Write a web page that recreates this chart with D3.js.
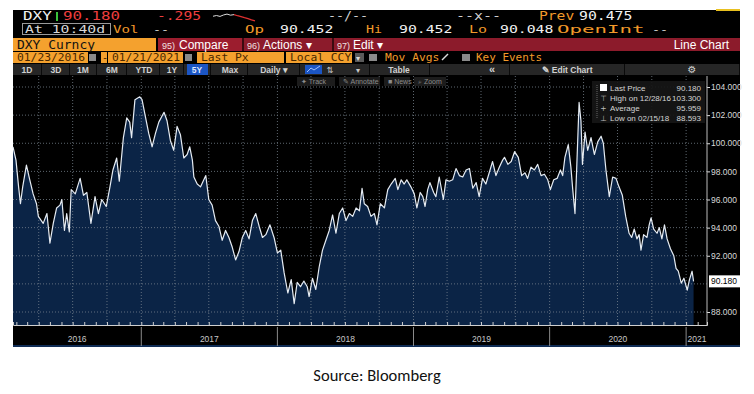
<!DOCTYPE html>
<html>
<head>
<meta charset="utf-8">
<script src="https://cdn.jsdelivr.net/npm/d3@7"></script>
<style>
  body { margin: 0; background: #fff; }
  svg { display: block; }
</style>
</head>
<body>
<svg id="chart" width="754" height="394"></svg>
<script>
// DXY daily close, 5Y window
var dates = [
  "2016-01-23","2016-01-31","2016-02-07","2016-02-12","2016-02-18","2016-02-28","2016-03-08","2016-03-17","2016-03-26","2016-03-31",
  "2016-04-13","2016-04-23","2016-05-01","2016-05-10","2016-05-19","2016-05-28","2016-06-02","2016-06-09","2016-06-15","2016-06-22",
  "2016-06-27","2016-07-08","2016-07-21","2016-07-30","2016-08-08","2016-08-19","2016-08-30","2016-09-08","2016-09-17","2016-09-29",
  "2016-10-09","2016-10-17","2016-10-27","2016-11-03","2016-11-14","2016-11-23","2016-12-01","2016-12-06","2016-12-15","2016-12-28",
  "2017-01-03","2017-01-12","2017-01-21","2017-01-30","2017-02-08","2017-02-17","2017-03-03","2017-03-11","2017-03-20","2017-03-29",
  "2017-04-07","2017-04-16","2017-04-25","2017-05-04","2017-05-11","2017-05-18","2017-05-22","2017-05-31","2017-06-09","2017-06-23",
  "2017-07-01","2017-07-10","2017-07-19","2017-07-28","2017-08-06","2017-08-15","2017-08-24","2017-09-02","2017-09-11","2017-09-20",
  "2017-09-29","2017-10-08","2017-10-17","2017-10-26","2017-11-04","2017-11-13","2017-11-22","2017-12-01","2017-12-12","2017-12-23",
  "2018-01-01","2018-01-10","2018-01-19","2018-01-29","2018-02-07","2018-02-15","2018-02-23","2018-03-04","2018-03-13","2018-03-22",
  "2018-03-27","2018-04-05","2018-04-14","2018-04-23","2018-05-02","2018-05-11","2018-05-20","2018-05-29","2018-06-07","2018-06-16",
  "2018-06-25","2018-07-04","2018-07-13","2018-07-22","2018-07-31","2018-08-09","2018-08-16","2018-08-22","2018-08-31","2018-09-09",
  "2018-09-18","2018-09-25","2018-10-04","2018-10-15","2018-10-24","2018-11-02","2018-11-13","2018-11-20","2018-11-29","2018-12-07",
  "2018-12-14","2018-12-25","2019-01-03","2019-01-10","2019-01-19","2019-01-26","2019-02-01","2019-02-08","2019-02-14","2019-02-24",
  "2019-03-02","2019-03-11","2019-03-22","2019-03-29","2019-04-07","2019-04-16","2019-04-25","2019-05-04","2019-05-13","2019-05-22",
  "2019-05-31","2019-06-09","2019-06-18","2019-06-26","2019-07-05","2019-07-14","2019-07-23","2019-08-01","2019-08-10","2019-08-19",
  "2019-08-28","2019-09-02","2019-09-11","2019-09-20","2019-09-29","2019-10-09","2019-10-18","2019-10-27","2019-11-03","2019-11-12",
  "2019-11-21","2019-11-30","2019-12-09","2019-12-18","2019-12-27","2020-01-03","2020-01-12","2020-01-21","2020-01-30","2020-02-05",
  "2020-02-11","2020-02-20","2020-02-27","2020-03-03","2020-03-09","2020-03-14","2020-03-20","2020-03-25","2020-03-29","2020-04-05",
  "2020-04-12","2020-04-21","2020-04-30","2020-05-09","2020-05-18","2020-05-24","2020-05-31","2020-06-09","2020-06-18","2020-06-27",
  "2020-07-05","2020-07-14","2020-07-23","2020-08-01","2020-08-08","2020-08-15","2020-08-22","2020-08-28","2020-09-02","2020-09-09",
  "2020-09-18","2020-09-24","2020-09-29","2020-10-06","2020-10-15","2020-10-21","2020-10-28","2020-11-04","2020-11-11","2020-11-20",
  "2020-11-29","2020-12-05","2020-12-11","2020-12-19","2020-12-26","2021-01-04","2021-01-10","2021-01-17","2021-01-21"
];
var prices = [
  99.75,98.8,96.9,95.7,96.9,98.45,97.4,96.4,95.7,94.8,
  94.3,95.0,92.9,94.3,95.4,95.6,96.0,93.8,95.0,93.7,
  96.7,96.4,97.5,96.3,96.5,94.3,96.2,95.0,96.0,95.5,
  96.9,98.1,98.95,97.3,100.4,101.8,101.5,100.4,103.1,103.3,
  103.1,101.9,100.7,99.75,100.7,101.5,102.2,101.6,100.2,99.5,
  101.2,100.6,98.95,99.2,99.75,98.8,97.6,97.1,96.9,97.7,
  96.0,95.6,94.5,94.1,93.1,93.8,93.3,92.6,91.7,92.3,
  93.3,93.8,93.2,94.5,95.0,94.1,93.3,93.5,94.2,93.3,
  92.2,92.4,90.8,89.35,90.3,88.6,90.1,89.8,90.2,89.8,
  89.1,90.4,89.6,91.2,92.4,93.1,93.8,94.9,93.6,95.0,
  95.4,94.5,95.0,94.8,95.4,95.2,96.8,95.7,95.5,94.8,
  95.0,94.2,95.7,95.4,96.7,97.1,97.5,96.7,97.4,97.1,
  97.4,96.9,96.4,95.4,96.5,96.2,95.5,96.7,97.2,96.5,
  96.2,97.6,96.0,97.4,97.3,97.4,98.2,97.7,97.6,98.1,
  98.2,96.8,97.2,96.2,97.5,97.1,97.9,98.7,97.7,98.3,
  98.8,99.0,98.5,98.7,99.4,99.0,97.7,97.9,97.5,98.3,
  98.1,98.5,97.7,97.8,97.4,96.7,97.4,97.5,98.1,97.7,
  99.0,99.9,98.3,96.7,95.0,98.5,102.9,101.6,98.5,100.8,
  99.5,100.4,99.2,100.1,100.5,100.0,98.1,96.2,97.6,97.5,
  96.9,96.3,94.8,93.6,93.3,93.9,93.2,93.5,92.4,93.5,
  93.3,94.2,94.7,93.9,93.6,94.0,93.2,94.2,93.2,92.5,
  92.0,91.1,90.9,90.05,90.4,89.55,90.3,90.9,90.18
];
var yTicks = [88, 92, 94, 96, 98, 100, 102, 104];
var gridValues = [88, 90, 92, 94, 96, 98, 100, 102, 104];
var years = [2016, 2017, 2018, 2019, 2020, 2021];
var sparkValues = [3.2, 3.6, 3.1, 3.9, 4.4, 3.8, 4.1, 3.5, 3.0, 2.4, 1.9, 1.2, 0.6];
var legendLabels = ["Last Price", "High on 12/28/16", "Average", "Low on 02/15/18"];
var legendValues = ["90.180", "103.300", "95.959", "88.593"];
var lastPrice = 90.18;

var svg = d3.select("#chart");
var panel = { left: 13, top: 10, right: 740, bottom: 347 };
var plot = { left: 13, right: 707, top: 76, bottom: 325 };

var orange = "#f4a12e", amber = "#f29a2a", crimson = "#8c1b2b";
var mono = "'DejaVu Sans Mono', monospace";
var sans = "'Liberation Sans', Arial, sans-serif";

svg.append("rect").attr("width", 754).attr("height", 394).attr("fill", "#fff");
svg.append("rect")
  .attr("x", panel.left).attr("y", panel.top)
  .attr("width", panel.right - panel.left).attr("height", panel.bottom - panel.top)
  .attr("fill", "#000");
svg.append("rect").attr("x", 716).attr("y", 9).attr("width", 24).attr("height", 2).attr("fill", "#e8c020");

function txt(g, x, y, s, color, size, font, cw, weight) {
  var t = g.append("text").attr("x", x).attr("y", y).text(s)
    .attr("fill", color).attr("font-size", size).attr("font-family", font || mono);
  if (cw) t.attr("textLength", s.length * cw).attr("lengthAdjust", "spacingAndGlyphs");
  if (weight) t.attr("font-weight", weight);
  return t;
}

var head = svg.append("g");

// row 1
txt(head, 23, 20, "DXY", "#f2f2f2", 12, mono, 9.6);
head.append("rect").attr("x", 56).attr("y", 12).attr("width", 2).attr("height", 9).attr("fill", "#3bc43b");
txt(head, 63, 20, "90.180", "#ef3e3e", 12, mono, 9.5);
txt(head, 157, 20, "-.295", "#ef3e3e", 12, mono, 8.8);
var sx = d3.scaleLinear().domain([0, sparkValues.length - 1]).range([213, 255]);
var sy = d3.scaleLinear().domain([0, 5]).range([22, 13]);
var spark = d3.line().x(function (d, i) { return sx(i); }).y(function (d) { return sy(d); });
head.append("path").attr("d", spark(sparkValues.slice(0, 7))).attr("fill", "none").attr("stroke", "#ddd").attr("stroke-width", 1);
head.append("path").attr("d", spark(sparkValues.slice(6)))
  .attr("transform", "translate(" + (sx(6) - sx(0)) + ",0)")
  .attr("fill", "none").attr("stroke", "#e03030").attr("stroke-width", 1.2);
txt(head, 328, 20, "--/--", "#cfcfcf", 12, mono, 8);
txt(head, 456, 20, "--x--", "#cfcfcf", 12, mono, 9);
txt(head, 539, 20, "Prev", amber, 12, mono, 8.8);
txt(head, 579, 20, "90.475", "#f2f2f2", 12, mono, 8.9);

// row 2
head.append("rect").attr("x", 22.5).attr("y", 23.5).attr("width", 88).attr("height", 11)
  .attr("fill", "none").attr("stroke", "#9a9a9a");
txt(head, 25, 32.5, "At 10:40d", "#d8d8d8", 11, mono, 8.9);
txt(head, 113, 32.5, "Vol", amber, 11, mono, 8.5);
txt(head, 153, 32.5, "--", "#cfcfcf", 11, mono, 8);
txt(head, 245, 32.5, "Op", amber, 11, mono, 9.5);
txt(head, 280, 32.5, "90.452", "#f2f2f2", 11, mono, 8.9);
txt(head, 366, 32.5, "Hi", amber, 11, mono, 8);
txt(head, 399, 32.5, "90.452", "#f2f2f2", 11, mono, 8.9);
txt(head, 469, 32.5, "Lo", amber, 11, mono, 9);
txt(head, 500, 32.5, "90.048", "#f2f2f2", 11, mono, 8.9);
txt(head, 557, 32.5, "OpenInt", amber, 11, mono, 12.5);
txt(head, 652, 32.5, "--", "#cfcfcf", 11, mono, 8);

// row 3
head.append("rect").attr("x", 13).attr("y", 38).attr("width", 143).attr("height", 13).attr("fill", orange);
txt(head, 17, 49, "DXY Curncy", "#111", 12, mono, 7.8);
head.append("rect").attr("x", 158).attr("y", 38).attr("width", 582).attr("height", 13).attr("fill", crimson);
head.append("rect").attr("x", 158).attr("y", 38).attr("width", 84).attr("height", 13).attr("fill", "#9c1d2e");
[242, 332].forEach(function (sep) {
  head.append("rect").attr("x", sep).attr("y", 38).attr("width", 2).attr("height", 13).attr("fill", "#3a0a10");
});
txt(head, 162, 48.5, "95)", "#f0e0e0", 9, sans);
txt(head, 179, 49, "Compare", "#fff", 12, sans);
txt(head, 247, 48.5, "96)", "#f0e0e0", 9, sans);
txt(head, 263, 49, "Actions \u25BE", "#fff", 12, sans);
txt(head, 337, 48.5, "97)", "#f0e0e0", 9, sans);
txt(head, 353, 49, "Edit \u25BE", "#fff", 12, sans);
txt(head, 729, 49, "Line Chart", "#fff", 12, sans).attr("text-anchor", "end");

// row 4
function obox(x, w, label) {
  head.append("rect").attr("x", x).attr("y", 52).attr("width", w).attr("height", 11).attr("fill", orange);
  if (label) txt(head, x + 4, 61, label, "#4a2800", 11, mono, 6.8);
}
function gbox(x, w) {
  head.append("rect").attr("x", x).attr("y", 54).attr("width", w).attr("height", 7).attr("fill", "#8a8a8a");
}
obox(13, 75, "01/23/2016");
gbox(89, 7);
obox(101, 6, null);
txt(head, 102, 61, "-", "#4a2800", 10, mono);
obox(108, 75, "01/21/2021");
gbox(185, 7);
obox(197, 87, "Last Px");
obox(286, 66, "Local CCY");
head.append("rect").attr("x", 355).attr("y", 53).attr("width", 9).attr("height", 9).attr("fill", "#5a5a5a");
txt(head, 356, 61, "\u25BE", "#ddd", 8, sans);
gbox(369, 8);
txt(head, 385, 61, "Mov Avgs", amber, 11, mono, 6.8);
head.append("line").attr("x1", 442).attr("y1", 60).attr("x2", 448).attr("y2", 54).attr("stroke", "#ddd").attr("stroke-width", 1.5);
gbox(462, 8);
txt(head, 476, 61, "Key Events", amber, 11, mono, 6.6);

// row 5 : range buttons
head.append("rect").attr("x", 13).attr("y", 64).attr("width", 727).attr("height", 11).attr("fill", "#262626");
var cells = [[13, 42], [42, 70], [70, 97], [97, 127], [127, 160], [160, 184], [184, 211], [211, 248], [248, 300], [300, 370], [370, 430], [430, 510], [510, 625], [625, 740]];
cells.forEach(function (c) {
  head.append("rect").attr("x", c[1] - 1).attr("y", 64).attr("width", 1).attr("height", 11).attr("fill", "#0a0a0a");
});
head.append("rect").attr("x", 187).attr("y", 64).attr("width", 21).attr("height", 11).attr("fill", "#1b55c4");
var btns = [["1D", 27], ["3D", 56], ["1M", 83], ["6M", 112], ["YTD", 144], ["1Y", 172], ["5Y", 197], ["Max", 230], ["Daily \u25BE", 274]];
btns.forEach(function (b) {
  txt(head, b[1], 72.5, b[0], b[0] === "5Y" ? "#dfe8ff" : "#d0d0d0", 8.5, sans, null, "bold").attr("text-anchor", "middle");
});
head.append("rect").attr("x", 305).attr("y", 65).attr("width", 17).attr("height", 9).attr("fill", "#1b55c4");
head.append("path").attr("d", "M307,72 L311,68 L314,70 L320,66").attr("fill", "none").attr("stroke", "#9fc0ff").attr("stroke-width", 1);
txt(head, 330, 72.5, "\u21C5", "#c8c8c8", 8.5, "'DejaVu Sans', sans-serif").attr("text-anchor", "middle");
txt(head, 358, 72.5, "\u25BE", "#c8c8c8", 8, sans).attr("text-anchor", "middle");
txt(head, 399, 72.5, "Table", "#d0d0d0", 8.5, sans, null, "bold").attr("text-anchor", "middle");
txt(head, 492, 72.5, "\u00AB", "#d0d0d0", 11, sans, null, "bold").attr("text-anchor", "middle");
txt(head, 567, 72.5, "\u270E Edit Chart", "#d0d0d0", 8.5, sans, null, "bold").attr("text-anchor", "middle");
txt(head, 692, 72.5, "\u2699", "#d0d0d0", 10, "'DejaVu Sans', sans-serif").attr("text-anchor", "middle");

// plot scales
var data = dates.map(function (d, i) { return { date: d3.utcParse("%Y-%m-%d")(d), value: prices[i] }; });
var x = d3.scaleUtc()
  .domain([Date.UTC(2016, 0, 23), Date.UTC(2021, 1, 26)])
  .range([plot.left, plot.right]);
var y = d3.scaleLinear().domain([88, 104]).range([312, 87]);

var area = d3.area()
  .x(function (d) { return x(d.date); })
  .y0(plot.bottom)
  .y1(function (d) { return y(d.value); });
var line = d3.line()
  .x(function (d) { return x(d.date); })
  .y(function (d) { return y(d.value); });

svg.append("path").datum(data).attr("d", area).attr("fill", "#0b2446");

// dotted grid
var grid = svg.append("g").attr("stroke", "#7c8792").attr("stroke-width", 0.9)
  .attr("stroke-dasharray", "1,2").attr("opacity", 0.85);
grid.selectAll(".h").data(gridValues).enter().append("line")
  .attr("x1", plot.left).attr("x2", plot.right)
  .attr("y1", function (d) { return y(d); }).attr("y2", function (d) { return y(d); });
grid.selectAll(".v").data(x.ticks(d3.utcMonth.every(3)).filter(function (d) { return x(d) > plot.left + 2; }))
  .enter().append("line")
  .attr("x1", function (d) { return x(d); }).attr("x2", function (d) { return x(d); })
  .attr("y1", plot.top).attr("y2", plot.bottom);

svg.append("path").datum(data).attr("d", line)
  .attr("fill", "none").attr("stroke", "#e6ecf3").attr("stroke-width", 1.2).attr("stroke-linejoin", "round");

// row 6 : chart tools (on top of grid)
var tools = [["\u2726 Track", 297, 40], ["\u270E Annotate", 339, 43], ["\u25A0 News", 384, 28], ["\u2315 Zoom", 414, 34]];
tools.forEach(function (t) {
  head.append("rect").attr("x", t[1]).attr("y", 77).attr("width", t[2] - 2).attr("height", 9).attr("fill", "#1c1c1c");
  txt(head, t[1] + 4, 84, t[0], "#8c8c8c", 7, sans);
});
svg.node().appendChild(head.node());

// right value axis
var yAxis = d3.axisRight(y).tickValues(yTicks).tickSize(3).tickFormat(d3.format(".3f"));
var ya = svg.append("g").attr("transform", "translate(" + plot.right + ",0)").call(yAxis);
ya.select(".domain").remove();
ya.append("line").attr("x1", 0).attr("x2", 0).attr("y1", plot.top).attr("y2", plot.bottom).attr("stroke", "#bbb");
ya.selectAll(".tick line").attr("stroke", "#ddd");
ya.selectAll(".tick text").attr("fill", "#d8d8d8").attr("font-size", 8.5).attr("font-family", sans).attr("x", 4);

// bottom time axis (monthly ticks)
var xAxis = d3.axisTop(x).ticks(d3.utcMonth.every(1)).tickSize(3).tickFormat("");
var xa = svg.append("g").attr("transform", "translate(0," + plot.bottom + ")").call(xAxis);
xa.select(".domain").attr("stroke", "#cfcfcf");
xa.selectAll(".tick line").attr("stroke", "#cfcfcf");

// year band
svg.append("rect").attr("x", panel.left).attr("y", 345).attr("width", 727).attr("height", 2).attr("fill", "#0f2c55");
years.forEach(function (yr) {
  var a = Math.max(x(Date.UTC(yr, 0, 1)), plot.left);
  var b = Math.min(x(Date.UTC(yr + 1, 0, 1)), plot.right);
  if (yr > 2016) {
    svg.append("line").attr("x1", a).attr("x2", a).attr("y1", 327).attr("y2", 346).attr("stroke", "#8a8a8a");
  }
  txt(svg, (a + b) / 2 + (yr === 2021 ? 0.5 : 0), 342, String(yr), "#c8c8c8", 8.5, sans).attr("text-anchor", "middle");
});

// last price tag
svg.append("rect").attr("x", 709).attr("y", y(lastPrice) - 6).attr("width", 31).attr("height", 12).attr("fill", "#fff");
txt(svg, 711, y(lastPrice) + 3, "90.180", "#000", 8.5, sans);

// legend
var lg = svg.append("g");
lg.append("rect").attr("x", 592).attr("y", 81).attr("width", 113).attr("height", 42).attr("fill", "#161616").attr("opacity", 0.92);
lg.append("line").attr("x1", 597).attr("x2", 597).attr("y1", 85).attr("y2", 119).attr("stroke", "#666").attr("stroke-dasharray", "1,1");
var icons = ["", "\u22A4", "+", "\u22A5"];
legendLabels.forEach(function (l, i) {
  var yy = 91 + i * 10;
  if (i === 0) lg.append("rect").attr("x", 600).attr("y", yy - 7).attr("width", 7).attr("height", 7).attr("fill", "#fff");
  else txt(lg, 603.5, yy, icons[i], "#bbb", 7.5, "'DejaVu Sans', sans-serif").attr("text-anchor", "middle");
  txt(lg, 610, yy, l, "#d4d4d4", 8, sans);
  txt(lg, 701, yy, legendValues[i], "#d4d4d4", 8, sans).attr("text-anchor", "end");
});

// source note
txt(svg, 377, 381, "Source: Bloomberg", "#111", 16.5, "Carlito, 'Noto Sans', sans-serif").attr("text-anchor", "middle");
</script>
</body>
</html>
